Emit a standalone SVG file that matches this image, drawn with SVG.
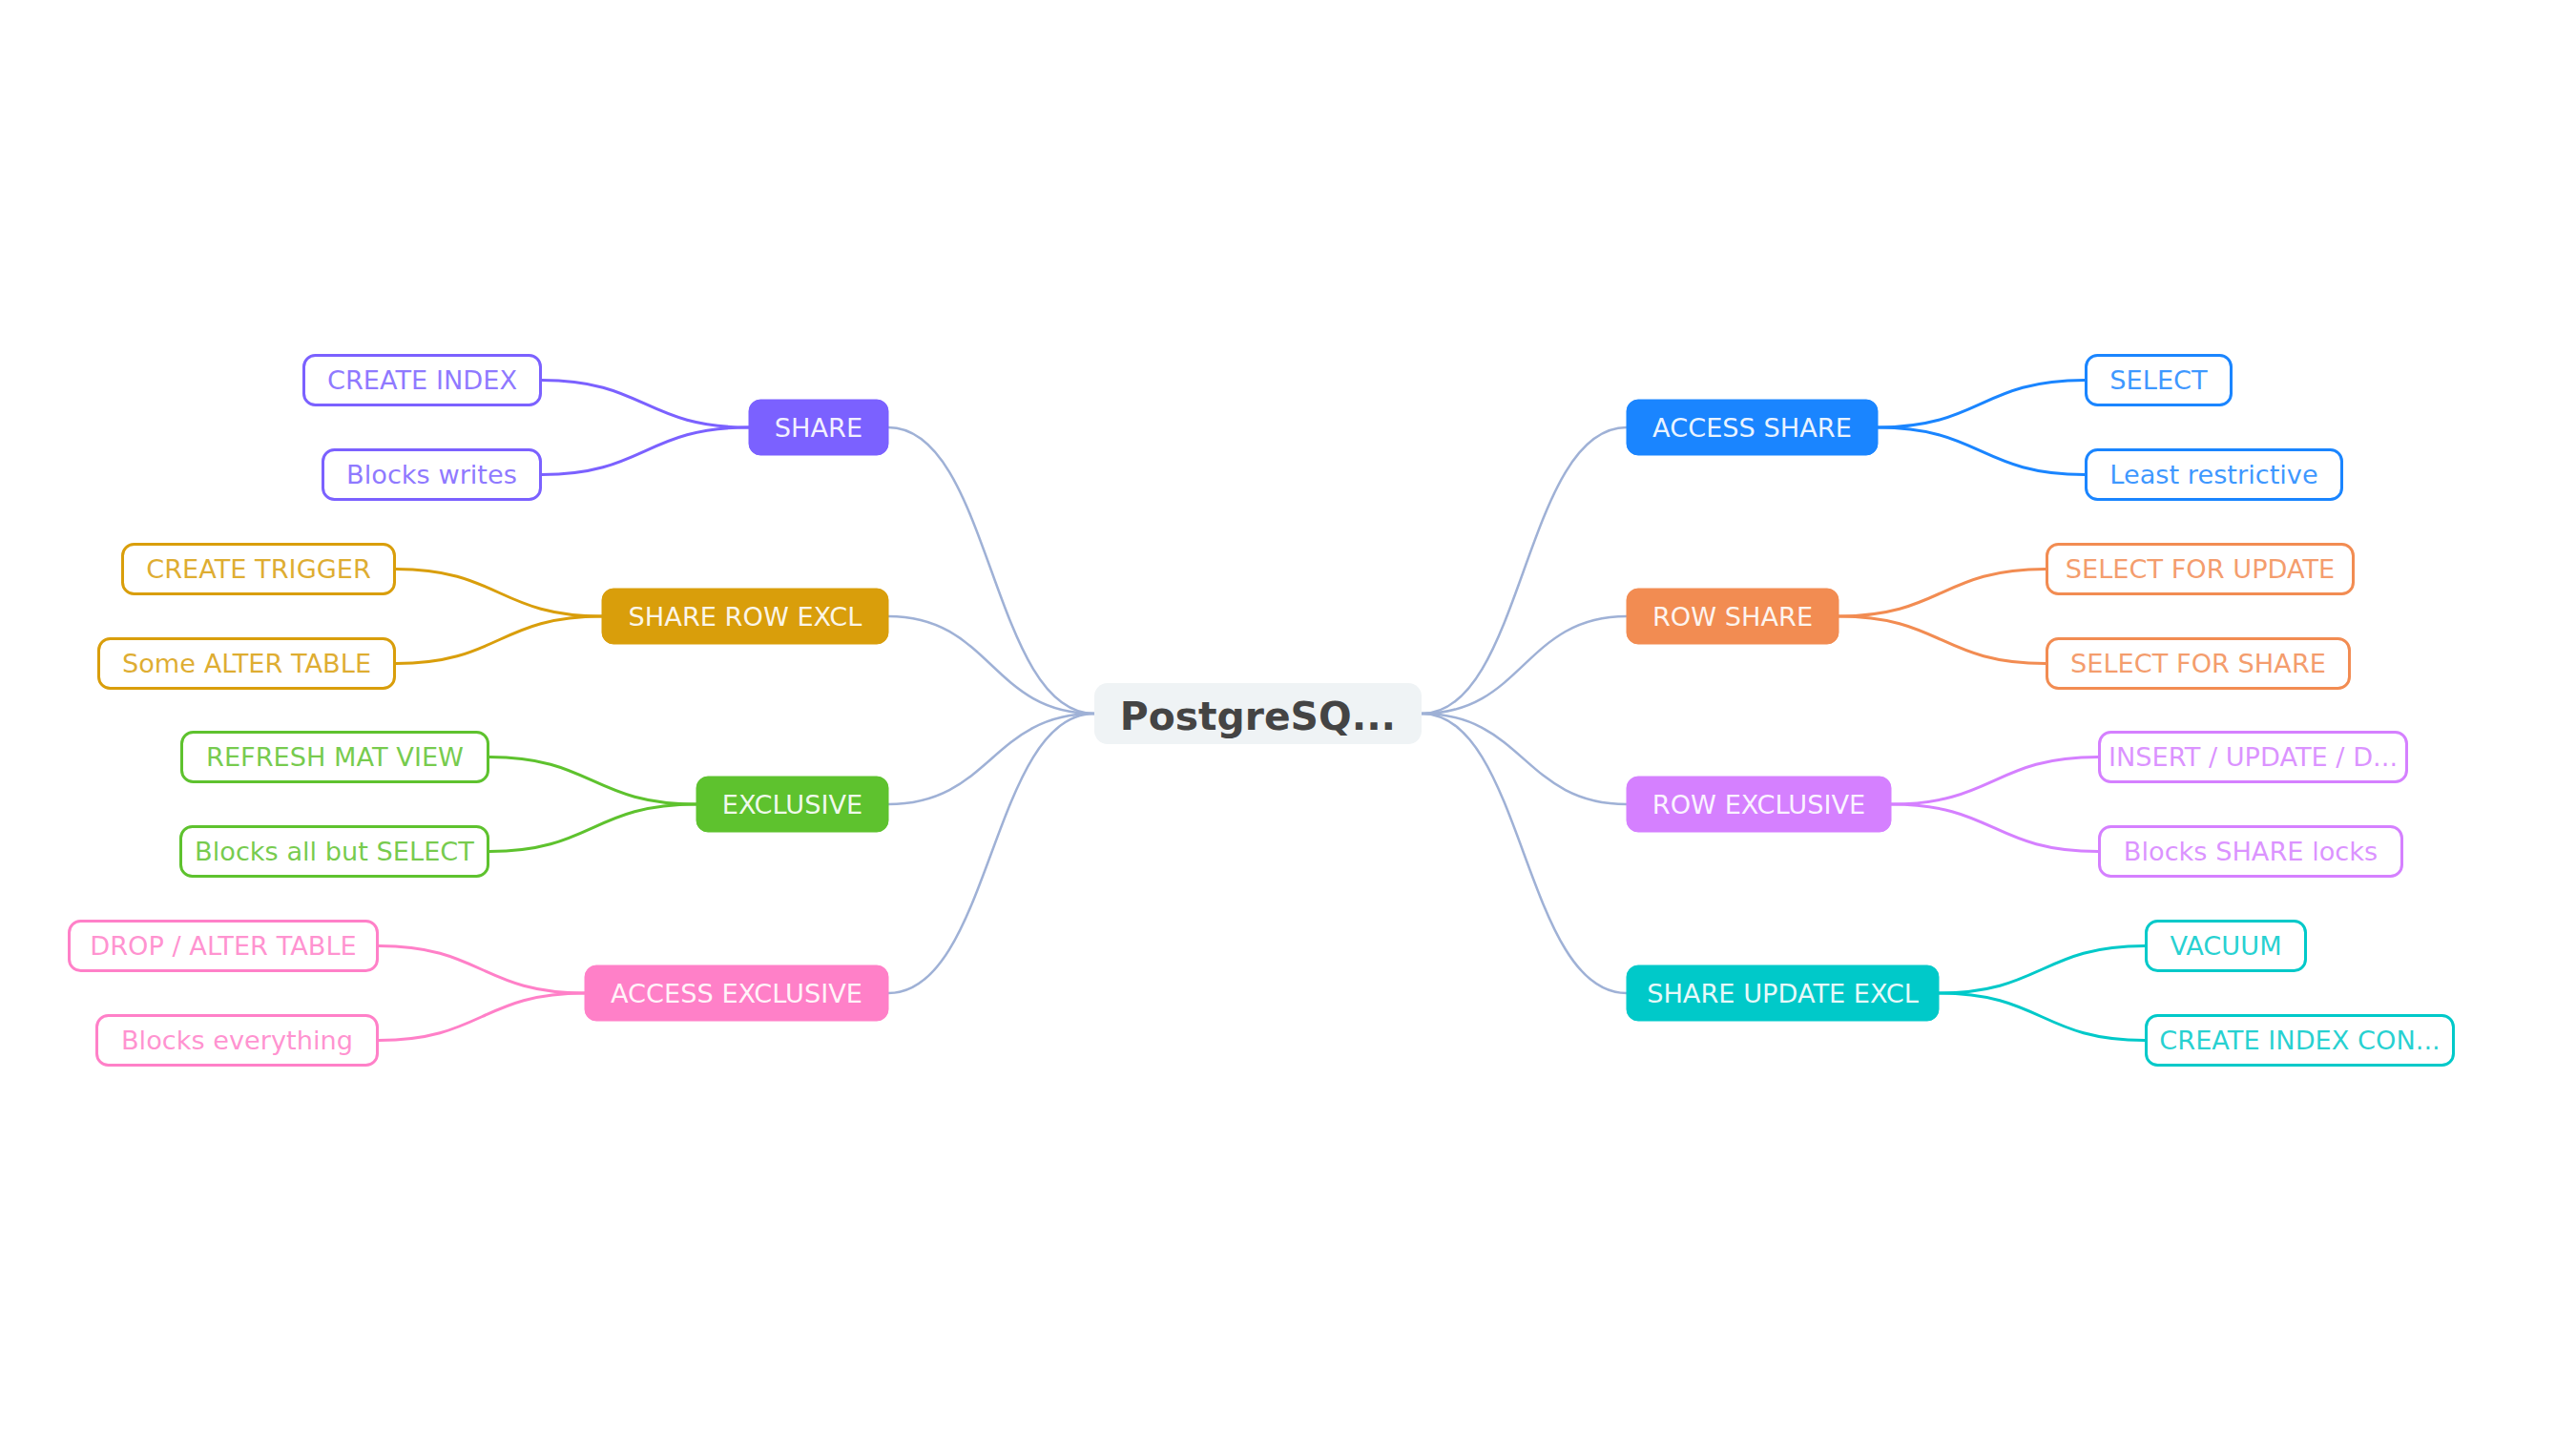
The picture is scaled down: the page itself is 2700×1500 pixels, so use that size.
<svg xmlns="http://www.w3.org/2000/svg" width="2700" height="1500" viewBox="0 0 2700 1500">
<style>
  text { font-family: "DejaVu Sans", "Liberation Sans", sans-serif; text-anchor: middle; }
  .root rect { fill: #eff3f5; }
  .root text { font-size: 40.8px; font-weight: bold; fill: #444444; }
  .l1 text { font-size: 27.2px; fill: #ffffff; fill-opacity: 0.92; }
  .leaf rect { fill: #ffffff; stroke-width: 3; }
  .leaf text { font-size: 27.2px; fill-opacity: 0.85; }
  .main { fill: none; stroke: #9fb1d6; stroke-width: 2.5; }
  .br { fill: none; stroke-width: 3; }
  .c1 { fill: #7b61ff; stroke: #7b61ff; }
  .c2 { fill: #d99e0b; stroke: #d99e0b; }
  .c3 { fill: #5ec22e; stroke: #5ec22e; }
  .c4 { fill: #ff80c8; stroke: #ff80c8; }
  .c5 { fill: #1a85ff; stroke: #1a85ff; }
  .c6 { fill: #f28c52; stroke: #f28c52; }
  .c7 { fill: #d580ff; stroke: #d580ff; }
  .c8 { fill: #00c9c9; stroke: #00c9c9; }
  .s1 { stroke: #7b61ff; } .t1 { fill: #7b61ff; }
  .s2 { stroke: #d99e0b; } .t2 { fill: #d99e0b; }
  .s3 { stroke: #5ec22e; } .t3 { fill: #5ec22e; }
  .s4 { stroke: #ff80c8; } .t4 { fill: #ff80c8; }
  .s5 { stroke: #1a85ff; } .t5 { fill: #1a85ff; }
  .s6 { stroke: #f28c52; } .t6 { fill: #f28c52; }
  .s7 { stroke: #d580ff; } .t7 { fill: #d580ff; }
  .s8 { stroke: #00c9c9; } .t8 { fill: #00c9c9; }
</style>
<rect width="2700" height="1500" fill="#ffffff"/>
<g id="connectors">
  <!-- root to level 1 -->
  <path class="main" d="M1147 748 C1039 748 1039 448 931 448"/>
  <path class="main" d="M1147 748 C1039 748 1039 646 931 646"/>
  <path class="main" d="M1147 748 C1039 748 1039 843 931 843"/>
  <path class="main" d="M1147 748 C1039 748 1039 1041 931 1041"/>
  <path class="main" d="M1490 748 C1597 748 1597 448 1705 448"/>
  <path class="main" d="M1490 748 C1597 748 1597 646 1705 646"/>
  <path class="main" d="M1490 748 C1597 748 1597 843 1705 843"/>
  <path class="main" d="M1490 748 C1597 748 1597 1041 1705 1041"/>
  <!-- level 1 to leaves, left -->
  <path class="br s1" d="M785 448 C676 448 676 398.5 568 398.5"/>
  <path class="br s1" d="M785 448 C676 448 676 497.5 568 497.5"/>
  <path class="br s2" d="M631 646 C523 646 523 596.5 415 596.5"/>
  <path class="br s2" d="M631 646 C523 646 523 695.5 415 695.5"/>
  <path class="br s3" d="M730 843 C621 843 621 793.5 513 793.5"/>
  <path class="br s3" d="M730 843 C621 843 621 892.5 513 892.5"/>
  <path class="br s4" d="M613 1041 C505 1041 505 991.5 397 991.5"/>
  <path class="br s4" d="M613 1041 C505 1041 505 1090.5 397 1090.5"/>
  <!-- level 1 to leaves, right -->
  <path class="br s5" d="M1968 448 C2076 448 2076 398.5 2185 398.5"/>
  <path class="br s5" d="M1968 448 C2076 448 2076 497.5 2185 497.5"/>
  <path class="br s6" d="M1927 646 C2035 646 2035 596.5 2144 596.5"/>
  <path class="br s6" d="M1927 646 C2035 646 2035 695.5 2144 695.5"/>
  <path class="br s7" d="M1982 843 C2090 843 2090 793.5 2199 793.5"/>
  <path class="br s7" d="M1982 843 C2090 843 2090 892.5 2199 892.5"/>
  <path class="br s8" d="M2032 1041 C2140 1041 2140 991.5 2248 991.5"/>
  <path class="br s8" d="M2032 1041 C2140 1041 2140 1090.5 2248 1090.5"/>
</g>

<g id="root" class="root">
  <rect x="1147" y="716" width="343" height="64" rx="14"/>
  <text x="1318.5" y="765">PostgreSQ...</text>
</g>

<g id="n-share" class="l1"><rect class="c1" x="785" y="419" width="146" height="58" rx="12"/><text x="858" y="458">SHARE</text></g>
<g id="n-share-row-excl" class="l1"><rect class="c2" x="631" y="617" width="300" height="58" rx="12"/><text x="781" y="656">SHARE ROW EXCL</text></g>
<g id="n-exclusive" class="l1"><rect class="c3" x="730" y="814" width="201" height="58" rx="12"/><text x="830.5" y="853">EXCLUSIVE</text></g>
<g id="n-access-exclusive" class="l1"><rect class="c4" x="613" y="1012" width="318" height="58" rx="12"/><text x="772" y="1051">ACCESS EXCLUSIVE</text></g>
<g id="n-access-share" class="l1"><rect class="c5" x="1705" y="419" width="263" height="58" rx="12"/><text x="1836.5" y="458">ACCESS SHARE</text></g>
<g id="n-row-share" class="l1"><rect class="c6" x="1705" y="617" width="222" height="58" rx="12"/><text x="1816" y="656">ROW SHARE</text></g>
<g id="n-row-exclusive" class="l1"><rect class="c7" x="1705" y="814" width="277" height="58" rx="12"/><text x="1843.5" y="853">ROW EXCLUSIVE</text></g>
<g id="n-share-update-excl" class="l1"><rect class="c8" x="1705" y="1012" width="327" height="58" rx="12"/><text x="1868.5" y="1051">SHARE UPDATE EXCL</text></g>

<g id="n-create-index" class="leaf"><rect class="s1" x="318.5" y="372.5" width="248" height="52" rx="12"/><text class="t1" x="442.5" y="408.3">CREATE INDEX</text></g>
<g id="n-blocks-writes" class="leaf"><rect class="s1" x="338.5" y="471.5" width="228" height="52" rx="12"/><text class="t1" x="452.5" y="507.3">Blocks writes</text></g>
<g id="n-create-trigger" class="leaf"><rect class="s2" x="128.5" y="570.5" width="285" height="52" rx="12"/><text class="t2" x="271" y="606.3">CREATE TRIGGER</text></g>
<g id="n-some-alter-table" class="leaf"><rect class="s2" x="103.5" y="669.5" width="310" height="52" rx="12"/><text class="t2" x="258.5" y="705.3">Some ALTER TABLE</text></g>
<g id="n-refresh-mat-view" class="leaf"><rect class="s3" x="190.5" y="767.5" width="321" height="52" rx="12"/><text class="t3" x="351" y="803.3">REFRESH MAT VIEW</text></g>
<g id="n-blocks-all-but-select" class="leaf"><rect class="s3" x="189.5" y="866.5" width="322" height="52" rx="12"/><text class="t3" x="350.5" y="902.3">Blocks all but SELECT</text></g>
<g id="n-drop-alter-table" class="leaf"><rect class="s4" x="72.5" y="965.5" width="323" height="52" rx="12"/><text class="t4" x="234" y="1001.3">DROP / ALTER TABLE</text></g>
<g id="n-blocks-everything" class="leaf"><rect class="s4" x="101.5" y="1064.5" width="294" height="52" rx="12"/><text class="t4" x="248.5" y="1100.3">Blocks everything</text></g>

<g id="n-select" class="leaf"><rect class="s5" x="2186.5" y="372.5" width="152" height="52" rx="12"/><text class="t5" x="2262.5" y="408.3">SELECT</text></g>
<g id="n-least-restrictive" class="leaf"><rect class="s5" x="2186.5" y="471.5" width="268" height="52" rx="12"/><text class="t5" x="2320.5" y="507.3">Least restrictive</text></g>
<g id="n-select-for-update" class="leaf"><rect class="s6" x="2145.5" y="570.5" width="321" height="52" rx="12"/><text class="t6" x="2306" y="606.3">SELECT FOR UPDATE</text></g>
<g id="n-select-for-share" class="leaf"><rect class="s6" x="2145.5" y="669.5" width="317" height="52" rx="12"/><text class="t6" x="2304" y="705.3">SELECT FOR SHARE</text></g>
<g id="n-insert-update-delete" class="leaf"><rect class="s7" x="2200.5" y="767.5" width="322" height="52" rx="12"/><text class="t7" x="2361.5" y="803.3">INSERT / UPDATE / D...</text></g>
<g id="n-blocks-share-locks" class="leaf"><rect class="s7" x="2200.5" y="866.5" width="317" height="52" rx="12"/><text class="t7" x="2359" y="902.3">Blocks SHARE locks</text></g>
<g id="n-vacuum" class="leaf"><rect class="s8" x="2249.5" y="965.5" width="167" height="52" rx="12"/><text class="t8" x="2333" y="1001.3">VACUUM</text></g>
<g id="n-create-index-con" class="leaf"><rect class="s8" x="2249.5" y="1064.5" width="322" height="52" rx="12"/><text class="t8" x="2410.5" y="1100.3">CREATE INDEX CON...</text></g>
</svg>
